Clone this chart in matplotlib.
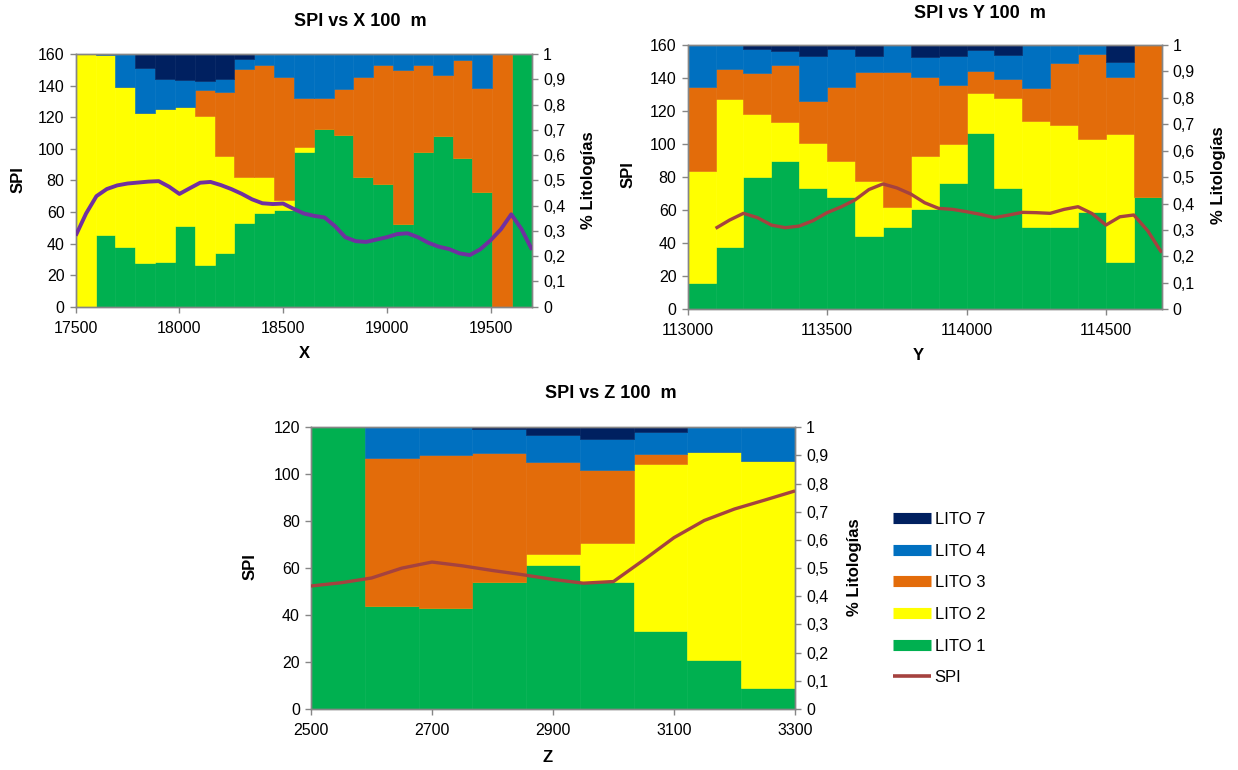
import numpy as np
import matplotlib
matplotlib.use('Agg')
import matplotlib.pyplot as plt
from matplotlib.lines import Line2D

plt.rcParams['font.family'] = ['Liberation Sans', 'DejaVu Sans']

LitoNames  = ['LITO 1', 'LITO 2', 'LITO 3', 'LITO 4', 'LITO 7']
LitoColors = ['#00B050', '#FFFF00', '#E36C0A', '#0070C0', '#002060']
FracTicks  = [0, 0.1, 0.2, 0.3, 0.4, 0.5, 0.6, 0.7, 0.8, 0.9, 1]
FracLabels = ['0', '0,1', '0,2', '0,3', '0,4', '0,5', '0,6', '0,7', '0,8', '0,9', '1']

# ---- SPI vs X ----
X_Range = [17500, 19700]
X_Ticks = [17500, 18000, 18500, 19000, 19500]
X_L1 = [0, .284, .237, .172, .175, .319, .165, .211, .332, .369, .383, .611, .705, .679, .515, .484, .326, .611, .677, .587, .453, 0, 1]
X_L2 = [1, .711, .634, .596, .606, .473, .590, .385, .183, .146, .039, .022, 0, 0, 0, 0, 0, 0, 0, 0, 0, 0, 0]
X_L3 = [0, 0, 0, 0, 0, 0, .103, .252, .424, .441, .488, .192, .120, .181, .395, .472, .611, .345, .240, .389, .411, 1, 0]
X_L4 = [0, .005, .129, .177, .119, .105, .036, .052, .040, .044, .090, .175, .175, .140, .090, .044, .063, .044, .083, .024, .136, 0, 0]
X_L7 = [0, 0, 0, .055, .100, .103, .106, .100, .021, 0, 0, 0, 0, 0, 0, 0, 0, 0, 0, 0, 0, 0, 0]
X_SpiPos = [17500, 17550, 17600, 17650, 17700, 17750, 17800, 17850, 17900, 17950, 18000, 18050, 18100, 18150,
            18200, 18250, 18300, 18350, 18400, 18450, 18500, 18550, 18600, 18650, 18700, 18750, 18800, 18850,
            18900, 18950, 19000, 19050, 19100, 19150, 19200, 19250, 19300, 19350, 19400, 19450, 19500, 19550,
            19600, 19650, 19700]
X_Spi = [45, 59, 70, 74.5, 76.8, 78, 78.6, 79.2, 79.5, 76, 71.4, 75, 78.5, 79, 77, 74.5, 71.5, 68, 65.5, 65,
         65.3, 62, 59, 57.5, 56.5, 51, 44, 41.5, 41, 42.5, 44, 46, 46.5, 44, 40.5, 38, 36.5, 33.8, 32.7, 36.3,
         42, 49, 58.5, 49, 36]

# ---- SPI vs Y ----
Y_Range = [113000, 114700]
Y_Ticks = [113000, 113500, 114000, 114500]
Y_L1 = [.098, .237, .501, .560, .460, .426, .277, .313, .380, .479, .668, .460, .313, .313, .367, .178, .424]
Y_L2 = [.427, .557, .238, .149, .168, .134, .210, .075, .200, .145, .149, .338, .401, .384, .277, .485, 0]
Y_L3 = [.317, .114, .154, .215, .160, .282, .410, .509, .298, .225, .085, .073, .125, .236, .322, .215, .576]
Y_L4 = [.158, .092, .091, .055, .170, .142, .061, .103, .078, .108, .079, .091, .161, .067, .034, .059, 0]
Y_L7 = [0, 0, .016, .021, .042, .016, .042, 0, .044, .043, .019, .038, 0, 0, 0, .063, 0]
Y_SpiPos = [113100, 113150, 113200, 113250, 113300, 113350, 113400, 113450, 113500, 113550, 113600, 113650,
            113700, 113750, 113800, 113850, 113900, 113950, 114000, 114050, 114100, 114150, 114200, 114250,
            114300, 114350, 114400, 114450, 114500, 114550, 114600, 114650, 114700]
Y_Spi = [49, 54, 58.1, 55.5, 51, 49.4, 50.4, 53.7, 58.5, 62, 66.2, 72.5, 75.9, 73.5, 69.8, 64.5, 61.1, 60.5,
         59.1, 57.5, 55.5, 57, 58.7, 58.5, 58.1, 60.5, 62.1, 58, 51, 56, 57.1, 47.5, 34.3]

# ---- SPI vs Z ----
Z_Range = [2500, 3300]
Z_Ticks = [2500, 2700, 2900, 3100, 3300]
Z_L1 = [1, .367, .357, .450, .511, .452, .278, .174, .076]
Z_L2 = [0, 0, 0, 0, .039, .139, .591, .737, .806]
Z_L3 = [0, .525, .545, .458, .328, .258, .035, 0, 0]
Z_L4 = [0, .108, .098, .085, .095, .108, .079, .089, .118]
Z_L7 = [0, 0, 0, .007, .027, .043, .017, 0, 0]
Z_SpiPos = [2500, 2550, 2600, 2650, 2700, 2750, 2800, 2850, 2900, 2950, 3000, 3050, 3100, 3150, 3200, 3250, 3300]
Z_Spi = [52.4, 53.8, 55.8, 60, 62.6, 61, 59, 57.2, 55.2, 53.6, 54.3, 63.5, 73, 80.3, 85.2, 89, 92.9]

W, H = 1238, 770
GREY = '#868686'


def Px (x, y):
    return x / W, 1 - y / H


def DrawPanel (fig, Box, Range, Ticks, Litos, SpiPos, Spi, SpiMax, SpiColor, SpiWidth):
    L, T, R, B = Box
    ax = fig.add_axes([L / W, 1 - B / H, (R - L) / W, (B - T) / H])
    ax2 = ax.twinx()

    # lithology columns on the secondary axis
    Edges = np.linspace(Range[0], Range[1], len(Litos[0]) + 1)
    Width = Edges[1] - Edges[0]
    Bottom = np.zeros(len(Litos[0]))
    for Vals, Col in zip(Litos, LitoColors):
        ax2.bar(Edges[:-1], Vals, width=Width, bottom=Bottom, align='edge',
                color=Col, edgecolor=Col, linewidth=0.4)
        Bottom = Bottom + np.array(Vals)

    # SPI on the primary axis, drawn above
    ax.plot(SpiPos, Spi, color=SpiColor, linewidth=SpiWidth, solid_capstyle='butt',
            solid_joinstyle='round', zorder=5)
    ax.set_zorder(ax2.get_zorder() + 1)
    ax.patch.set_visible(False)

    ax.set_xlim(Range)
    ax.set_ylim(0, SpiMax)
    ax.set_yticks(np.arange(0, SpiMax + 1, 20))
    ax.set_xticks(Ticks)
    ax2.set_ylim(0, 1)
    ax2.set_yticks(FracTicks)
    ax2.set_yticklabels(FracLabels)

    for a in (ax, ax2):
        for s in a.spines.values():
            s.set_color(GREY)
            s.set_linewidth(1.0)
        a.tick_params(direction='out', length=4, width=1, color=GREY, labelsize=11.5, pad=4)
    ax.tick_params(axis='x', pad=6)
    return ax


def main ():
    fig = plt.figure(figsize=(W / 100, H / 100), dpi=100)

    DrawPanel(fig, (75.7, 54, 532, 306.7), X_Range, X_Ticks, [X_L1, X_L2, X_L3, X_L4, X_L7],
              X_SpiPos, X_Spi, 160, '#7030A0', 2.8)
    DrawPanel(fig, (687.7, 45, 1161.7, 309.3), Y_Range, Y_Ticks, [Y_L1, Y_L2, Y_L3, Y_L4, Y_L7],
              Y_SpiPos, Y_Spi, 160, '#A5423F', 2.4)
    DrawPanel(fig, (311, 427.3, 795, 709), Z_Range, Z_Ticks, [Z_L1, Z_L2, Z_L3, Z_L4, Z_L7],
              Z_SpiPos, Z_Spi, 120, '#A5423F', 2.4)

    # titles and axis names
    TitleFont = dict(fontsize=13, fontweight='bold', ha='center', va='center')
    LabFont = dict(fontsize=12, fontweight='bold', ha='center', va='center')
    fig.text(*Px(360, 21), 'SPI vs X 100  m', **TitleFont)
    fig.text(*Px(980, 13), 'SPI vs Y 100  m', **TitleFont)
    fig.text(*Px(611, 394), 'SPI vs Z 100  m', **TitleFont)

    fig.text(*Px(18, 180), 'SPI', rotation=90, **LabFont)
    fig.text(*Px(304, 353), 'X', **LabFont)
    fig.text(*Px(588, 180), '% Litologías', rotation=90, **LabFont)

    fig.text(*Px(628, 175), 'SPI', rotation=90, **LabFont)
    fig.text(*Px(918, 356), 'Y', **LabFont)
    fig.text(*Px(1218, 175), '% Litologías', rotation=90, **LabFont)

    fig.text(*Px(250, 567), 'SPI', rotation=90, **LabFont)
    fig.text(*Px(548, 757), 'Z', **LabFont)
    fig.text(*Px(855, 567), '% Litologías', rotation=90, **LabFont)

    # legend, top entry first like the original
    Handles = []
    Labels = []
    for Name, Col in reversed(list(zip(LitoNames, LitoColors))):
        Handles.append(Line2D([], [], color=Col, linewidth=8, solid_capstyle='butt'))
        Labels.append(Name)
    Handles.append(Line2D([], [], color='#A5423F', linewidth=2.6, solid_capstyle='butt'))
    Labels.append('SPI')
    fig.legend(Handles, Labels, loc='upper left', bbox_to_anchor=Px(893, 512), frameon=False,
               fontsize=12, handlelength=2.3, handletextpad=0.2, labelspacing=1.0, borderpad=0,
               borderaxespad=0)

    plt.savefig('out.png', dpi=100)
    plt.close()


if __name__ == "__main__":
    main()
